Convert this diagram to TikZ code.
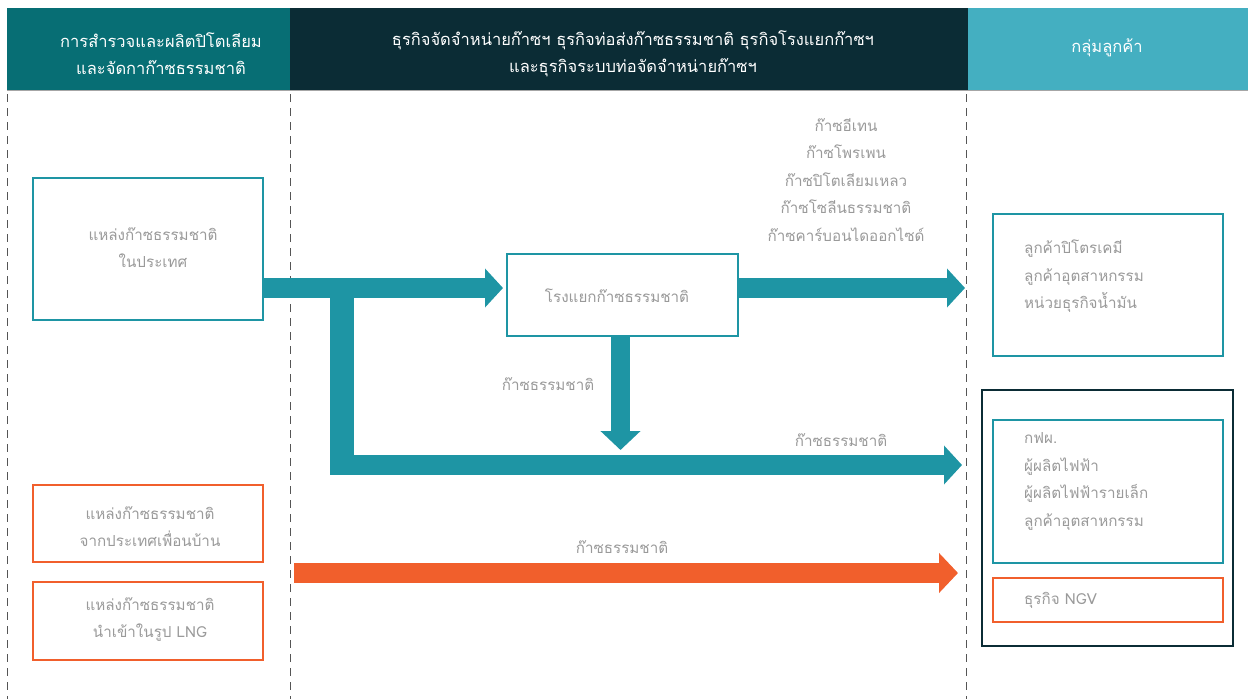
\documentclass[tikz,border=0pt]{standalone}
\usepackage{fontspec}
\newfontfamily\thaifont[Script=Thai]{Loma}
\usetikzlibrary{arrows.meta}
\definecolor{hdA}{HTML}{076E74}
\definecolor{hdB}{HTML}{0B2C35}
\definecolor{hdC}{HTML}{44AFC1}
\definecolor{teal}{HTML}{1E95A4}
\definecolor{orng}{HTML}{F15F2C}
\definecolor{txtgray}{HTML}{9A9A9A}
\definecolor{dashgray}{HTML}{555555}
\tikzset{
  hdtxt/.style={text=white,align=center,font=\thaifont\fontsize{16.5}{27}\selectfont,inner sep=0pt},
  txt/.style={text=txtgray,align=center,font=\thaifont\fontsize{15.2}{27.5}\selectfont,inner sep=0pt},
  tbox/.style={draw=teal,line width=2.5pt,fill=white,inner sep=0pt},
  obox/.style={draw=orng,line width=2.5pt,fill=white,inner sep=0pt},
  sep/.style={draw=dashgray,line width=0.8pt,dash pattern=on 8pt off 6pt},
  fatteal/.style={draw=teal,line width=20pt,-{Triangle[width=38pt,length=18pt]}},
  fatorng/.style={draw=orng,line width=20pt,-{Triangle[width=39pt,length=19pt]}},
}
\begin{document}
\begin{tikzpicture}[x=1pt,y=-1pt]
\useasboundingbox (0,0) rectangle (1248,699);
% headers
\fill[hdA] (7,8) rectangle (290,90);
\fill[hdB] (290,8) rectangle (968,90);
\fill[hdC] (968,8) rectangle (1248,90);
\draw[gray!70,line width=1pt] (7,90) -- (1248,90);
\node[hdtxt] (h1) at (161,53.5) {การสำรวจและผลิตปิโตเลียม\\และจัดกาก๊าซธรรมชาติ};
\node[hdtxt] (h2) at (633,53.5) {ธุรกิจจัดจำหน่ายก๊าซฯ ธุรกิจท่อส่งก๊าซธรรมชาติ ธุรกิจโรงแยกก๊าซฯ\\และธุรกิจระบบท่อจัดจำหน่ายก๊าซฯ};
\node[hdtxt] (h3) at (1107,48) {กลุ่มลูกค้า};
% dashed separators
\draw[sep] (7,94) -- (7,699);
\draw[sep] (290,94) -- (290,699);
\draw[sep] (966,94) -- (966,699);
% source boxes
\node[tbox,minimum width=230pt,minimum height=142pt] (dom) at (148,249) {};
\node[txt] at (153,247.5) {แหล่งก๊าซธรรมชาติ\\ในประเทศ};
\node[obox,minimum width=230pt,minimum height=77pt] (nbr) at (148,523.5) {};
\node[txt] at (150,526.5) {แหล่งก๊าซธรรมชาติ\\จากประเทศเพื่อนบ้าน};
\node[obox,minimum width=230pt,minimum height=78pt] (lng) at (148,621) {};
\node[txt] at (150,619.5) {แหล่งก๊าซธรรมชาติ\\นำเข้าในรูป LNG};
% gas separation plant
\node[tbox,minimum width=231pt,minimum height=82pt] (plant) at (622.5,295) {};
\node[txt] at (617,296) {โรงแยกก๊าซธรรมชาติ};
% customer boxes
\draw[hdB,line width=2.5pt] (982,390) rectangle (1233,646);
\node[tbox,minimum width=230pt,minimum height=142pt] (c1) at (1108,285) {};
\node[txt,align=left,anchor=west] at (1024,276.5) {ลูกค้าปิโตรเคมี\\ลูกค้าอุตสาหกรรม\\หน่วยธุรกิจน้ำมัน};
\node[tbox,minimum width=230pt,minimum height=143pt] (c2) at (1108,491.5) {};
\node[txt,align=left,anchor=west] at (1024,481.5) {กฟผ.\\ผู้ผลิตไฟฟ้า\\ผู้ผลิตไฟฟ้ารายเล็ก\\ลูกค้าอุตสาหกรรม};
\node[obox,minimum width=230pt,minimum height=44pt] (ngv) at (1108,600) {};
\node[txt,align=left,anchor=west] at (1024,600) {ธุรกิจ NGV};
% connector coordinates
\coordinate (branch) at (342,288);
\coordinate (tipA) at (503,288);
\coordinate (tipB) at (965,288);
\coordinate (tipC) at (962,465);
\coordinate (tipD) at (620.5,450);
\coordinate (startO) at (294,573);
\coordinate (tipO) at (958,573);
% teal arrows
\draw[fatteal] (dom.east |- branch) -- (tipA);
\draw[teal,line width=24pt] (branch) -- (342,475);
\draw[fatteal] (330,465) -- (tipC);
\draw[fatteal,-{Triangle[width=39pt,length=19pt]},line width=19pt] (plant.south -| tipD) -- (tipD);
\draw[fatteal] (plant.east |- tipB) -- (tipB);
% orange arrow
\draw[fatorng] (startO) -- (tipO);
% labels
\node[txt] (prod) at (846,180) {ก๊าซอีเทน\\ก๊าซโพรเพน\\ก๊าซปิโตเลียมเหลว\\ก๊าซโซลีนธรรมชาติ\\ก๊าซคาร์บอนไดออกไซด์};
\node[txt] at (548,384) {ก๊าซธรรมชาติ};
\node[txt] at (841,440) {ก๊าซธรรมชาติ};
\node[txt] at (622,547) {ก๊าซธรรมชาติ};
\end{tikzpicture}
\end{document}
